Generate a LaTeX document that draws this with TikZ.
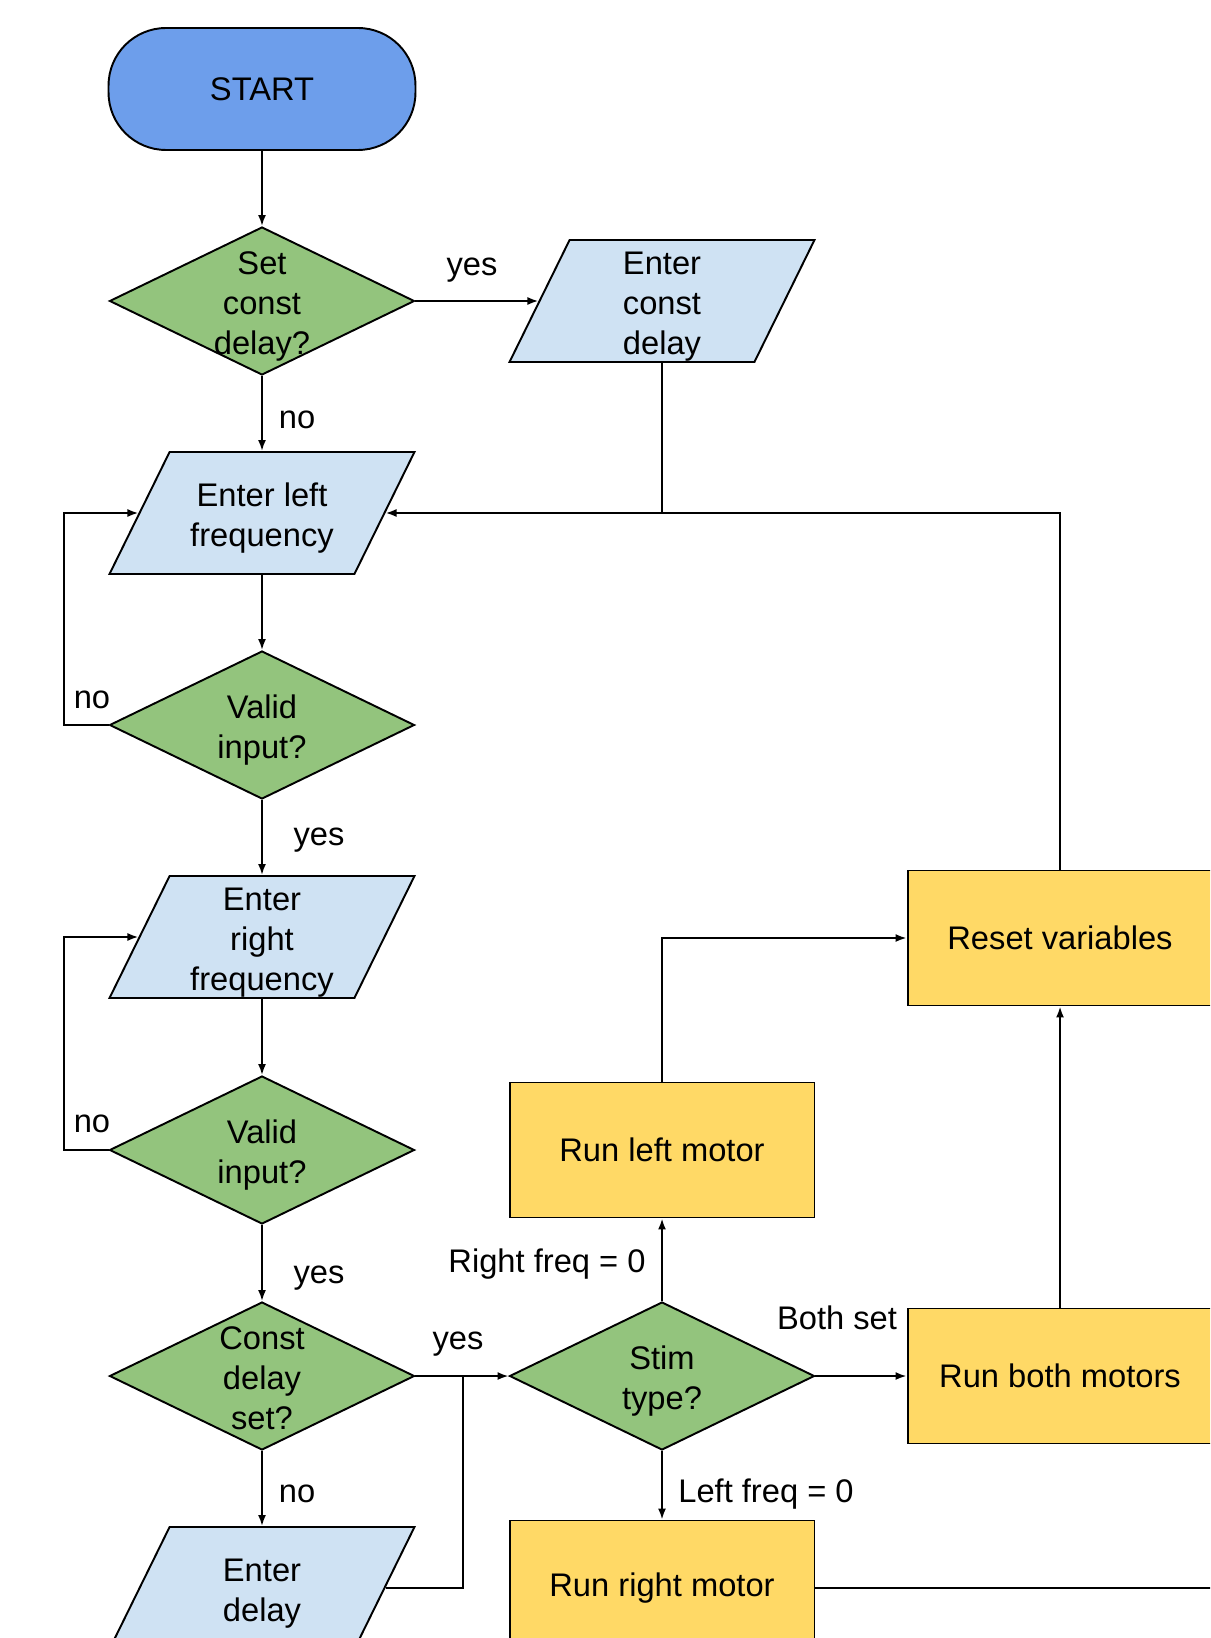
\documentclass[tikz,border=0pt]{standalone}
\usepackage{fontspec}
\setmainfont{Liberation Sans}
\tikzset{font={\fontsize{18.6pt}{22.7pt}\selectfont}}
\usetikzlibrary{
	calc,
	arrows.meta,
	shapes,
	positioning
	}
\definecolor{bleu-debut}{HTML}{6D9EEB}
\definecolor{vert-test}{HTML}{93C47D}
\definecolor{bleu-saisie}{HTML}{CFE2F3}
\definecolor{jaune-action}{HTML}{FFD966}
\tikzstyle{noeud-debut}=[draw, fill=bleu-debut, rounded corners=1.15cm, minimum width=6.14cm, minimum height=2.44cm]
\tikzstyle{noeud-test}=[draw, fill=vert-test, diamond, inner sep=0pt, minimum width=6.1cm, minimum height=2.96cm]
\tikzstyle{noeud-saisie}=[draw, fill=bleu-saisie, trapezium, trapezium left angle=72, trapezium right angle=108, trapezium stretches=true, inner sep=2pt, minimum width=6.1cm, minimum height=2.44cm]
\tikzstyle{noeud-action}=[draw, fill=jaune-action, minimum width=6.1cm, minimum height=2.7cm]
\tikzstyle{etiquette}=[inner sep=0pt]
\newcommand{\lignes}[1]{\raisebox{-0.4em}[0pt][0pt]{\makebox[0pt]{\begin{tabular}{@{}c@{}}#1\end{tabular}}}}

\begin{document}
\begin{tikzpicture}[x=0.02cm, y=-0.02cm, line width=1.1pt, >={Latex[length=0.22cm,width=0.16cm]}]
        \useasboundingbox (0,0) rectangle (1210,1638);
        \clip (0,0) rectangle (1210,1638);
        % colonne de gauche
        \node[noeud-debut] (start) at (262,89) {START};
        \node[noeud-test] (d1) at (262,301) {\lignes{Set\\const\\delay?}};
        \node[noeud-saisie] (p1) at (262,513) {\lignes{Enter left\\frequency}};
        \node[noeud-test] (d2) at (262,725) {\lignes{Valid\\input?}};
        \node[noeud-saisie] (p2) at (262,937) {\lignes{Enter\\right\\frequency}};
        \node[noeud-test] (d3) at (262,1150) {\lignes{Valid\\input?}};
        \node[noeud-test] (d4) at (262,1376) {\lignes{Const\\delay\\set?}};
        \node[noeud-saisie] (p3) at (262,1588) {\lignes{Enter\\delay}};
        % colonne du milieu
        \node[noeud-saisie] (pc) at (662,301) {\lignes{Enter\\const\\delay}};
        \node[noeud-action] (runleft) at (662,1150) {Run left motor};
        \node[noeud-test] (stim) at (662,1376) {\lignes{Stim\\type?}};
        \node[noeud-action] (runright) at (662,1588) {Run right motor};
        % colonne de droite
        \node[noeud-action] (reset) at (1060,938) {Reset variables};
        \node[noeud-action] (runboth) at (1060,1376) {Run both motors};
        \coordinate (jonction) at (463,1376);
        \coordinate (sortie) at (1240,1588);
        %
        \draw[->] (start) -- (d1);
        \draw[->] (d1) -- (pc);
        \draw[->] (d1) -- (p1);
        \draw[->] (p1) -- (d2);
        \draw[->] (d2) -- (p2);
        \draw[->] (p2) -- (d3);
        \draw[->] (d3) -- (d4);
        \draw[->] (d4) -- (p3);
        \draw[->] (d4) -- (stim);
        \draw (p3) -| (jonction);
        \draw[->] (d2.west) -- ++(-45,0) |- (p1);
        \draw[->] (d3.west) -- ++(-45,0) |- (p2);
        \draw (pc) -- (pc |- p1);
        \draw[->] (reset) |- (p1);
        \draw[->] (runleft) |- (reset);
        \draw[->] (runboth) -- (reset);
        \draw[->] (stim) -- (runleft);
        \draw[->] (stim) -- (runboth);
        \draw[->] (stim) -- (runright);
        \draw (runright) -- (sortie);
        %
        \node[etiquette] (oui-1) at (472,270) {yes};
        \node[etiquette] (non-1) at (297,420) {no};
        \node[etiquette] (non-2) at (92,700) {no};
        \node[etiquette] (oui-2) at (319,840) {yes};
        \node[etiquette] (non-3) at (92,1124) {no};
        \node[etiquette] (oui-3) at (319,1278) {yes};
        \node[etiquette] (oui-4) at (458,1344) {yes};
        \node[etiquette] (non-4) at (297,1494) {no};
        \node[etiquette] (droite-0) at (547,1264) {Right freq = 0};
        \node[etiquette] (deux) at (837,1318) {Both set};
        \node[etiquette] (gauche-0) at (766,1494) {Left freq = 0};
    \end{tikzpicture}
\end{document}
